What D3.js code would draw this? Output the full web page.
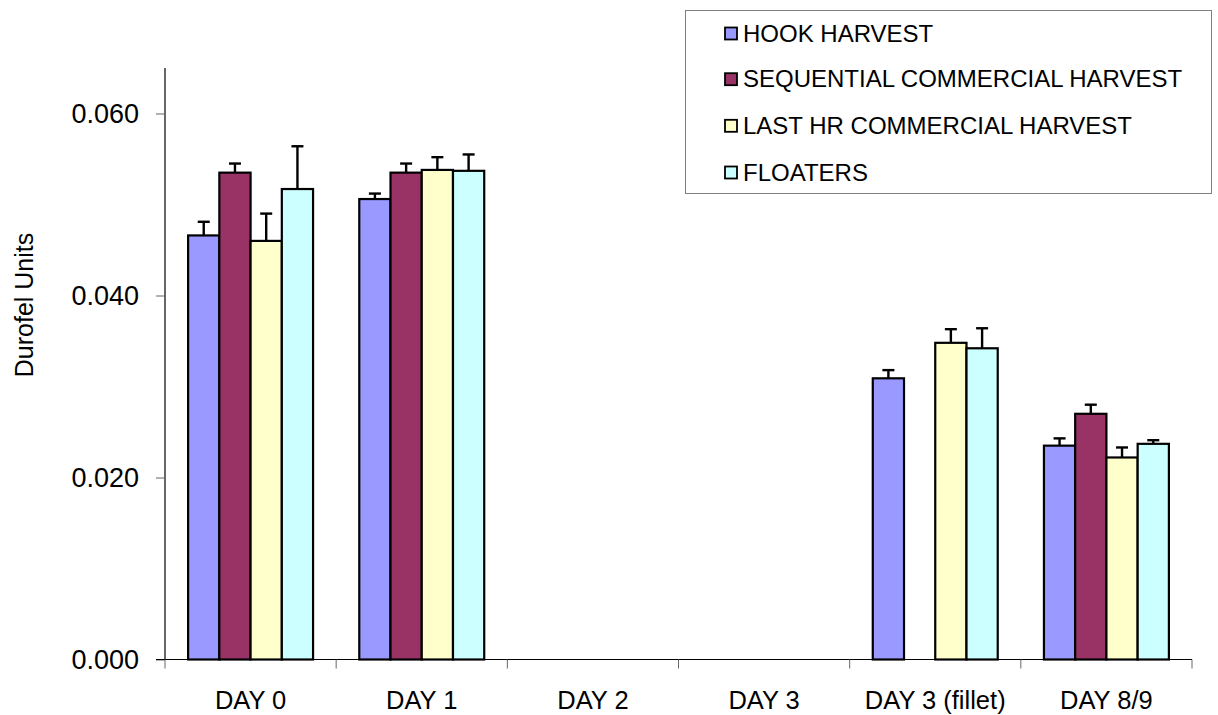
<!DOCTYPE html>
<html><head><meta charset="utf-8">
<script src="https://cdn.jsdelivr.net/npm/d3@7/dist/d3.min.js"></script>
<style>body{margin:0;background:#fff}svg{display:block}text{font-family:"Liberation Sans",Arial,sans-serif;fill:#000}</style>
</head><body>
<svg id="c" width="1218" height="715"></svg>
<script>
const categories = ["DAY 0","DAY 1","DAY 2","DAY 3","DAY 3 (fillet)","DAY 8/9"];
const seriesNames = ["HOOK HARVEST","SEQUENTIAL COMMERCIAL HARVEST","LAST HR COMMERCIAL HARVEST","FLOATERS"];
const seriesColors = ["#9999FF","#993366","#FFFFCC","#CCFFFF"];
const hookValues       = [0.0466, 0.0506, null, null, 0.0309, 0.0235];
const hookErrors       = [0.0015, 0.0006, null, null, 0.0009, 0.0008];
const sequentialValues = [0.0535, 0.0535, null, null, null, 0.0270];
const sequentialErrors = [0.0010, 0.0010, null, null, null, 0.0010];
const lastHrValues     = [0.0460, 0.0538, null, null, 0.0348, 0.0222];
const lastHrErrors     = [0.0030, 0.0014, null, null, 0.0015, 0.0011];
const floatersValues   = [0.0517, 0.0537, null, null, 0.0342, 0.0237];
const floatersErrors   = [0.0047, 0.0018, null, null, 0.0022, 0.0004];
const yTicks = [0, 0.02, 0.04, 0.06];
const yMax = 0.065;

const allValues = [hookValues, sequentialValues, lastHrValues, floatersValues];
const allErrors = [hookErrors, sequentialErrors, lastHrErrors, floatersErrors];

const svg = d3.select("#c");
const mLeft = 165, mRight = 1192, mTop = 68, mBottom = 659.5;

const x = d3.scaleBand().domain(categories).range([mLeft, mRight]).padding(0);
const y = d3.scaleLinear().domain([0, yMax]).range([mBottom, mTop]);
const groupFrac = 0.73;
const groupW = x.bandwidth() * groupFrac;
const inner = d3.scaleBand().domain(seriesNames)
  .range([(x.bandwidth() - groupW) / 2, (x.bandwidth() + groupW) / 2]).padding(0);

const barData = [];
seriesNames.forEach((s, si) => {
  categories.forEach((c, ci) => {
    const v = allValues[si][ci];
    if (v != null) barData.push({s, si, c, v, e: allErrors[si][ci]});
  });
});

const eg = svg.append("g");
barData.forEach(d => {
  const cx = x(d.c) + inner(d.s) + inner.bandwidth() / 2;
  eg.append("line").attr("x1", cx).attr("x2", cx).attr("y1", y(d.v)).attr("y2", y(d.v + d.e))
    .attr("stroke", "#000").attr("stroke-width", 2.4);
  eg.append("line").attr("x1", cx - 6).attr("x2", cx + 6).attr("y1", y(d.v + d.e)).attr("y2", y(d.v + d.e))
    .attr("stroke", "#000").attr("stroke-width", 2.4);
});

svg.append("g").selectAll("rect").data(barData).join("rect")
  .attr("x", d => x(d.c) + inner(d.s))
  .attr("y", d => y(d.v))
  .attr("width", inner.bandwidth())
  .attr("height", d => mBottom - y(d.v))
  .attr("fill", d => seriesColors[d.si])
  .attr("stroke", "#000").attr("stroke-width", 2.2);

const yAxis = svg.append("g").attr("transform", `translate(${mLeft},0)`)
  .call(d3.axisLeft(y).tickValues(yTicks).tickFormat(d3.format(".3f")).tickSize(9).tickPadding(17));
yAxis.select(".domain").attr("stroke", "#000").attr("stroke-width", 1.2).attr("d", `M0,${mTop}V${mBottom}`);
yAxis.selectAll(".tick line").attr("stroke", "#666");
yAxis.selectAll("text").attr("font-size", 27).attr("font-family", '"Liberation Sans",Arial,sans-serif').attr("fill", "#000");

const xg = svg.append("g").attr("transform", `translate(0,${mBottom})`);
xg.append("line").attr("x1", mLeft - 9).attr("x2", mRight).attr("y1", 0).attr("y2", 0).attr("stroke", "#000").attr("stroke-width", 1.2);
const bounds = categories.map(c => x(c)).concat([mRight]);
xg.selectAll(".xt").data(bounds).join("line").attr("class", "xt")
  .attr("x1", d => d).attr("x2", d => d).attr("y1", 0).attr("y2", 9).attr("stroke", "#666");
xg.selectAll(".xl").data(categories).join("text").attr("class", "xl")
  .attr("x", d => x(d) + x.bandwidth() / 2).attr("y", 49.5)
  .attr("text-anchor", "middle").attr("font-size", 25.5).text(d => d);

svg.append("text").attr("transform", "translate(33,305) rotate(-90)")
  .attr("text-anchor", "middle").attr("font-size", 25).text("Durofel Units");

const lg = svg.append("g");
lg.append("rect").attr("x", 685.5).attr("y", 10.5).attr("width", 526).attr("height", 183)
  .attr("fill", "#fff").attr("stroke", "#808080").attr("stroke-width", 1);
const rowY = [33, 78.7, 125.3, 172];
seriesNames.forEach((s, i) => {
  lg.append("rect").attr("x", 725).attr("y", rowY[i] - 5.5).attr("width", 12).attr("height", 12)
    .attr("fill", seriesColors[i]).attr("stroke", "#000").attr("stroke-width", 1.8);
  lg.append("text").attr("x", 743).attr("y", rowY[i]).attr("dy", "0.36em")
    .attr("font-size", 24).text(s);
});
</script>
</body></html>
